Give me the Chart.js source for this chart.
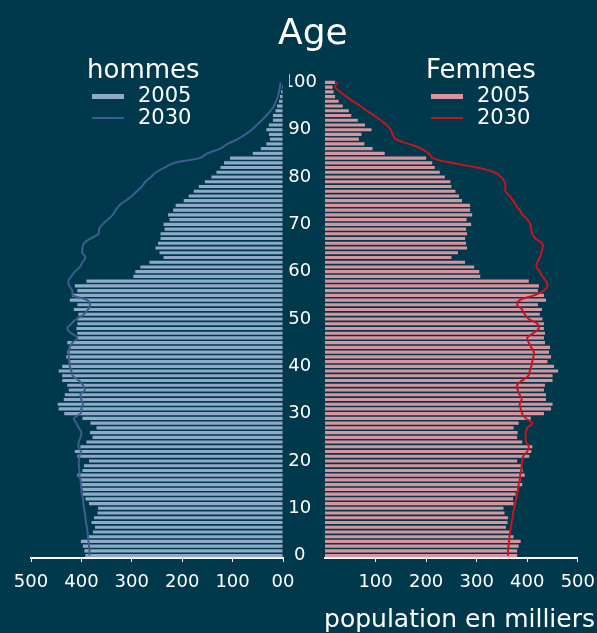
<!DOCTYPE html>
<html>
<head>
<meta charset="utf-8">
<script src="https://cdn.jsdelivr.net/npm/chart.js"></script>
<style>
  html, body { margin: 0; padding: 0; background: #00384c; width: 597px; height: 633px; overflow: hidden; }
  body { position: relative; font-family: "DejaVu Sans", sans-serif; color: #fff; }
  canvas { position: absolute; top: 0; }
  #left { left: 0; }
  #right { left: 289px; }
  .txt { position: absolute; white-space: nowrap; line-height: 1; }
  .swatch { position: absolute; }
</style>
</head>
<body>
<canvas id="left" width="297" height="633"></canvas>
<canvas id="right" width="316" height="633"></canvas>

<div class="txt" style="left:278px; top:14px; font-size:36px;">Age</div>

<div class="txt" style="left:87px; top:56px; font-size:26px;">hommes</div>
<div class="swatch" style="left:92px; top:94px; width:32px; height:5px; background:#8eaac9;"></div>
<div class="txt" style="left:138px; top:85px; font-size:21px;">2005</div>
<div class="swatch" style="left:92px; top:117px; width:32px; height:2px; background:#3d5e8e;"></div>
<div class="txt" style="left:138px; top:107px; font-size:21px;">2030</div>

<div class="txt" style="left:426px; top:56px; font-size:26px;">Femmes</div>
<div class="swatch" style="left:431px; top:94px; width:32px; height:5px; background:#d8949e;"></div>
<div class="txt" style="left:477px; top:85px; font-size:21px;">2005</div>
<div class="swatch" style="left:431px; top:117px; width:32px; height:2px; background:#c8141e;"></div>
<div class="txt" style="left:477px; top:107px; font-size:21px;">2030</div>

<div class="txt" style="right:2px; top:606px; font-size:25px;">population en milliers</div>

<script>
const ages = [0,1,2,3,4,5,6,7,8,9,10,11,12,13,14,15,16,17,18,19,20,21,22,23,24,25,26,27,28,29,30,
  31,32,33,34,35,36,37,38,39,40,41,42,43,44,45,46,47,48,49,50,51,52,53,54,55,56,57,58,59,60,
  61,62,63,64,65,66,67,68,69,70,71,72,73,74,75,76,77,78,79,80,81,82,83,84,85,86,87,88,89,90,
  91,92,93,94,95,96,97,98,99,100];

const xTicks = [0, 100, 200, 300, 400, 500];

// hommes, 2005 (milliers), age 0 -> 100
const men2005 = [392,394,397,401,386,377,373,380,375,368,367,385,392,397,398,400,402,408,398,395,
  385,408,413,402,390,378,383,370,382,398,434,445,447,435,433,425,428,438,438,445,
  438,425,430,428,425,428,408,408,410,408,408,406,415,408,423,418,408,413,390,297,
  293,283,265,237,245,253,248,243,243,235,237,225,228,218,213,197,187,177,167,155,
  142,132,124,117,105,60,44,33,26,28,33,28,20,20,15,12,8,6,4,2,1];

// hommes, 2030
const men2030 = [384,384,385,386,387,388,389,391,392,393,395,396,397,399,400,401,402,404,404,405,
  405,404,401,406,405,402,400,405,410,415,402,400,397,400,402,393,397,405,417,420,
  423,424,425,425,423,418,408,420,428,420,410,395,387,383,388,417,418,424,426,420,
  413,403,398,392,398,398,395,382,366,365,358,348,338,332,325,312,300,290,280,273,
  262,252,235,215,165,150,125,110,90,75,62,52,42,33,25,18,14,10,8,6,5];

// femmes, 2005
const women2005 = [380,380,383,387,373,367,358,361,362,355,353,373,372,377,380,390,387,395,391,389,
  380,404,408,410,390,380,381,373,383,407,433,447,450,437,437,433,435,450,450,461,
  453,440,447,443,445,435,433,435,433,433,430,425,429,421,437,433,421,423,403,307,
  305,295,277,250,263,281,279,277,281,279,289,280,291,287,287,271,265,258,250,248,
  237,227,217,212,200,118,94,78,67,72,92,79,65,52,47,35,27,20,17,15,20];

// femmes, 2030
const women2030 = [362,362,363,364,365,366,368,369,371,372,374,376,378,380,382,383,385,386,388,389,
  390,392,400,403,398,397,397,400,410,397,390,387,385,389,385,381,380,390,402,405,
  408,410,412,413,408,403,400,412,423,420,403,395,390,380,385,413,433,440,437,430,
  425,418,420,425,428,430,430,416,410,408,406,400,391,385,378,372,365,357,357,355,
  348,335,300,250,213,205,190,165,140,134,130,122,110,97,83,70,55,42,30,20,25];

const FONT = "DejaVu Sans";
const WHITE = "#ffffff";

function yScale(showLabels) {
  const s = {
    type: "category",
    reverse: true,
    offset: true,
    display: showLabels,
    grid: { display: false },
    border: { display: false },
    ticks: {
      autoSkip: false,
      color: WHITE,
      crossAlign: "center",
      padding: 0,
      font: { family: FONT, size: 18 },
      callback: function (v) {
        const a = Number(this.getLabelForValue(v));
        return a % 10 === 0 ? String(a) : null;
      }
    }
  };
  if (showLabels) s.afterFit = sc => { sc.width = 36; };
  return s;
}

function xScale(reverse) {
  return {
    type: "linear",
    min: 0,
    max: 500,
    reverse: reverse,
    afterBuildTicks: s => { s.ticks = xTicks.map(v => ({ value: v })); },
    grid: { drawOnChartArea: false, color: WHITE, tickLength: 4, lineWidth: 1 },
    border: { color: WHITE, width: 2 },
    ticks: {
      color: WHITE,
      padding: 10,
      font: { family: FONT, size: 18 },
      callback: v => (v === 0 ? (reverse ? "00" : null) : String(v))
    },
    afterFit: s => { s.height = 40; }
  };
}

function makeChart(id, bars, line, barColor, lineColor, reverse) {
  new Chart(document.getElementById(id), {
    type: "bar",
    data: {
      labels: ages,
      datasets: [
        {
          type: "line",
          indexAxis: "y",
          data: line,
          borderColor: lineColor,
          borderWidth: 2,
          pointRadius: 0,
          tension: 0.4,
          fill: false,
          order: 0
        },
        {
          type: "bar",
          indexAxis: "y",
          data: bars,
          backgroundColor: barColor,
          borderWidth: 0,
          barPercentage: 0.66,
          categoryPercentage: 1,
          order: 1
        }
      ]
    },
    options: {
      indexAxis: "y",
      responsive: false,
      animation: false,
      layout: {
        padding: reverse
          ? { top: 80, bottom: 35, left: 31, right: 14 }
          : { top: 80, bottom: 35, left: 0, right: 0 }
      },
      plugins: { legend: { display: false }, tooltip: { enabled: false } },
      scales: { x: xScale(reverse), y: yScale(!reverse) }
    }
  });
}

makeChart("left", men2005, men2030, "#8eaac9", "#3d5e8e", true);
makeChart("right", women2005, women2030, "#d8949e", "#c8141e", false);
</script>
</body>
</html>
